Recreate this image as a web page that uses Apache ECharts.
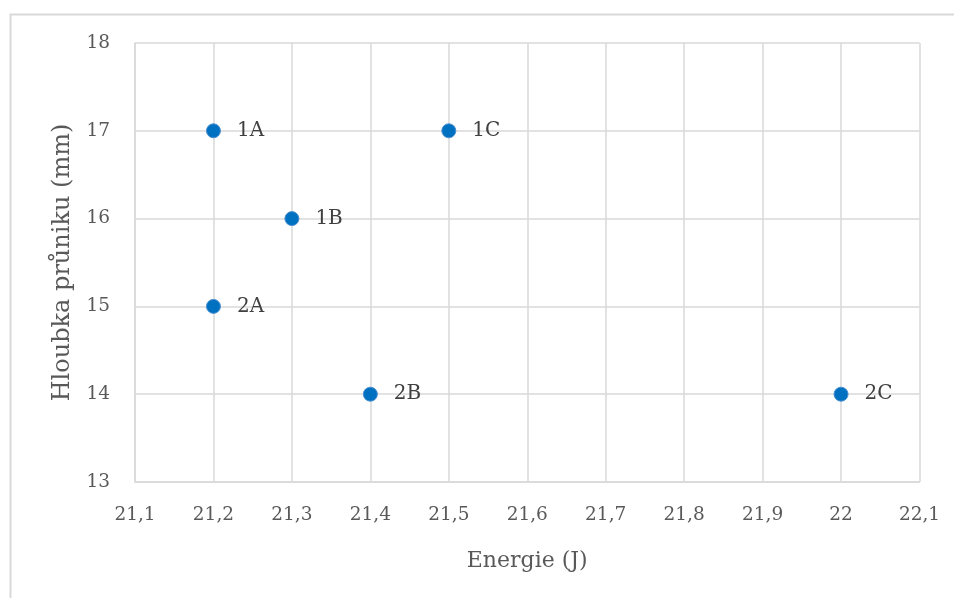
<!DOCTYPE html>
<html>
<head>
<meta charset="utf-8">
<script src="https://cdn.jsdelivr.net/npm/echarts@6/dist/echarts.min.js"></script>
<style>html,body{margin:0;padding:0;background:#fff}#c{width:954px;height:598px}</style>
</head>
<body>
<div id="c"></div>
<script>
const pointLabels = ['1A', '1B', '1C', '2A', '2B', '2C'];
const energy = [21.2, 21.3, 21.5, 21.2, 21.4, 22.0];
const depth = [17, 16, 17, 15, 14, 14];
const xTitle = 'Energie (J)';
const yTitle = 'Hloubka průniku (mm)';

const FONT = '"DejaVu Serif", serif';
const data = energy.map((e, i) => ({ value: [e, depth[i]], name: pointLabels[i] }));

const chart = echarts.init(document.getElementById('c'));
chart.setOption({
  animation: false,
  backgroundColor: '#fff',
  graphic: [{
    type: 'rect', left: 8, top: 12, z: -1,
    shape: { width: 1000, height: 1000 },
    style: { fill: 'none', stroke: '#d9d9d9', lineWidth: 2 }
  }],
  grid: { left: 135, top: 43, right: 34.5, bottom: 116 },
  xAxis: {
    type: 'value', min: 21.1, max: 22.1, interval: 0.1,
    name: xTitle, nameLocation: 'middle', nameGap: 68,
    nameTextStyle: { fontFamily: FONT, fontSize: 22, color: '#595959' },
    axisLine: { show: true, lineStyle: { color: '#d9d9d9', width: 1.5 } },
    axisTick: { show: false },
    splitLine: { show: true, lineStyle: { color: '#d9d9d9', width: 1.5 } },
    axisLabel: {
      margin: 24, fontFamily: FONT, fontSize: 18.5, color: '#595959',
      formatter: v => String(+(+v).toFixed(1)).replace('.', ',')
    }
  },
  yAxis: {
    type: 'value', min: 13, max: 18, interval: 1,
    name: yTitle, nameLocation: 'middle', nameGap: 60,
    nameTextStyle: { fontFamily: FONT, fontSize: 24, color: '#595959' },
    axisLine: { show: true, lineStyle: { color: '#d9d9d9', width: 1.5 } },
    axisTick: { show: false },
    splitLine: { show: true, lineStyle: { color: '#d9d9d9', width: 1.5 } },
    axisLabel: { margin: 25, fontFamily: FONT, fontSize: 18.5, color: '#595959' }
  },
  series: [{
    type: 'scatter',
    data: data,
    symbol: 'circle',
    symbolSize: 14,
    itemStyle: { color: '#0070C0', borderColor: '#4a8fd0', borderWidth: 1, opacity: 1 },
    label: {
      show: true, position: 'right', distance: 16,
      formatter: p => p.name,
      fontFamily: FONT, fontSize: 20, color: '#404040'
    }
  }]
});
</script>
</body>
</html>
